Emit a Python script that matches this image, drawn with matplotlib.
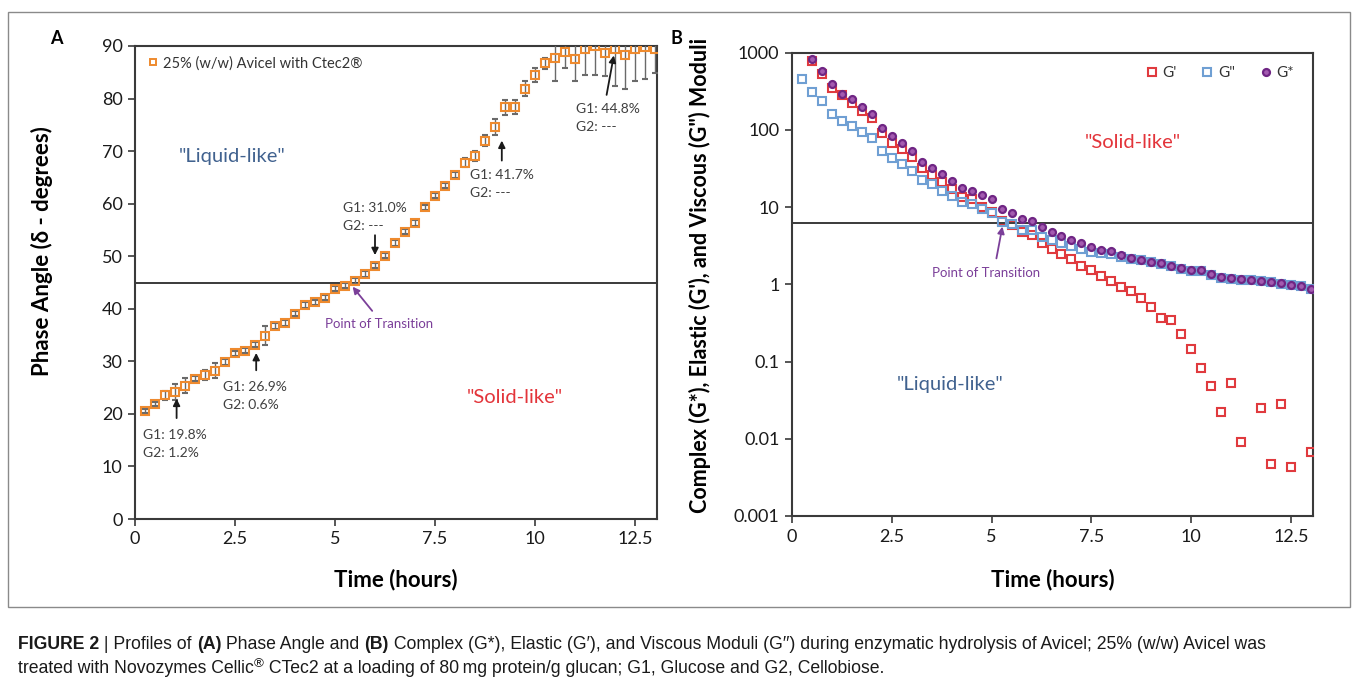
import numpy as np
import matplotlib
matplotlib.use("Agg")
import matplotlib.pyplot as plt
from matplotlib.patches import Rectangle
from matplotlib.lines import Line2D

# ---------------- data ----------------
time_a = [0.25, 0.5, 0.75, 1.0, 1.25, 1.5, 1.75, 2.0, 2.25, 2.5, 2.75, 3.0, 3.25,
          3.5, 3.75, 4.0, 4.25, 4.5, 4.75, 5.0, 5.25, 5.5, 5.75, 6.0, 6.25, 6.5,
          6.75, 7.0, 7.25, 7.5, 7.75, 8.0, 8.25, 8.5, 8.75, 9.0, 9.25, 9.5, 9.75,
          10.0, 10.25, 10.5, 10.75, 11.0, 11.25, 11.5, 11.75, 12.0, 12.25, 12.5,
          12.75, 13.0]
phase_angle = [20.6, 21.9, 23.5, 24.2, 25.4, 26.7, 27.4, 28.2, 29.9, 31.5, 32.0,
               33.2, 34.9, 36.7, 37.3, 39.1, 40.7, 41.2, 42.1, 43.8, 44.4, 45.3,
               46.6, 48.2, 50.1, 52.5, 54.7, 56.3, 59.3, 61.5, 63.4, 65.4, 67.8,
               69.1, 72.0, 74.6, 78.3, 78.4, 81.9, 84.5, 86.7, 87.8, 88.9, 87.5,
               89.4, 90.0, 88.7, 89.5, 88.3, 89.5, 89.9, 89.4]
phase_err = [0.4, 0.4, 0.9, 1.5, 1.5, 0.5, 1.0, 1.4, 0.6, 0.5, 0.5, 0.5, 1.8,
             0.6, 0.5, 0.5, 0.5, 0.5, 0.5, 0.5, 0.5, 0.5, 0.5, 0.5, 0.5, 0.5,
             0.5, 0.5, 0.5, 0.5, 0.5, 0.6, 0.8, 1.0, 1.0, 1.5, 1.4, 1.3, 1.5,
             1.3, 1.0, 4.5, 3.0, 4.2, 4.9, 5.5, 4.5, 7.2, 6.5, 6.2, 6.2, 4.5]

time_b = time_a
g_elastic = [np.nan, 780, 535, 352, 283, 221, 176, 141, 90, 68, 56, 44.6, 31.8,
             26, 21.3, 17.2, 13.6, 12.7, 10.1, 8.6, 6.6, 5.9, 4.8, 4.35, 3.48,
             2.85, 2.5, 2.15, 1.75, 1.53, 1.28, 1.12, 0.93, 0.81, 0.66, 0.51,
             0.37, 0.35, 0.227, 0.145, 0.083, 0.0486, 0.022, 0.052, 0.009,
             np.nan, 0.0248, 0.00465, 0.0281, 0.00434, np.nan, 0.0068]
g_viscous = [452, 313, 237, 162, 130, 112, 93, 78, 53, 43.6, 36, 29.6, 22.4,
             19.7, 16.2, 13.9, 11.7, 10.9, 9.5, 8.5, 6.5, 6.0, 5.05, 5.0, 4.14,
             3.75, 3.46, 3.13, 2.84, 2.64, 2.52, 2.45, 2.28, 2.15, 2.04, 1.93,
             1.84, 1.71, 1.59, 1.51, 1.51, 1.33, 1.22, 1.19, 1.15, 1.13, 1.10,
             1.07, 1.02, 0.98, 0.94, 0.87]
g_complex = [np.nan, 820, 580, 390, 292, 249, 196, 159, 107, 83, 67, 53, 38.7,
             32.4, 26.6, 21.8, 17.5, 16.3, 14.2, 12.6, 9.4, 8.5, 7.0, 6.6, 5.6,
             4.75, 4.2, 3.8, 3.4, 3.07, 2.78, 2.70, 2.40, 2.17, 2.07, 1.96, 1.87,
             1.73, 1.61, 1.53, 1.53, 1.35, 1.23, 1.20, 1.16, 1.14, 1.11, 1.08,
             1.03, 0.99, 0.95, 0.88]

x_ticks = [0, 2.5, 5, 7.5, 10, 12.5]
x_ticklabels = ["0", "2.5", "5", "7.5", "10", "12.5"]
a_yticks = [0, 10, 20, 30, 40, 50, 60, 70, 80, 90]
b_yticks = [0.001, 0.01, 0.1, 1, 10, 100, 1000]
b_yticklabels = ["0.001", "0.01", "0.1", "1", "10", "100", "1000"]
transition_a = 45
transition_b = 6.3

annotations_a = [
    ("G1: 19.8%\nG2: 1.2%", 0.2, 14.3, 1.04, 19.2, 1.04, 22.9),
    ("G1: 26.9%\nG2: 0.6%", 2.2, 23.4, 3.03, 28.3, 3.03, 31.6),
    ("G1: 31.0%\nG2: ---", 5.2, 57.5, 6.0, 54.0, 6.0, 50.2),
    ("G1: 41.7%\nG2: ---", 8.37, 63.7, 9.17, 68.2, 9.17, 72.0),
    ("G1: 44.8%\nG2: ---", 11.02, 76.3, 11.79, 80.7, 11.97, 88.2),
]

# ---------------- style ----------------
FONT = ["Lato", "DejaVu Sans"]
plt.rcParams["font.family"] = FONT
SPINE = "#3a3a3a"
ORANGE = "#ee8a2e"
RED = "#e03a3e"
BLUE = "#6f9fd3"
PURPLE = "#6f2584"
PURPLE_FACE = "#a35bb0"
TXT = "#404040"

fig = plt.figure(figsize=(13.57, 6.83), dpi=100)
W, H = 1357, 683


def ax_rect(l, t, r, b):
    return [l / W, 1 - b / H, (r - l) / W, (b - t) / H]


# outer frame
fig.patches.append(Rectangle((8 / W, 1 - 607 / H), (1350 - 8) / W, (607 - 12) / H,
                             transform=fig.transFigure, fill=False,
                             edgecolor="#8a8a8a", lw=1.0))

# ---------------- panel A ----------------
axA = fig.add_axes(ax_rect(135, 46, 657, 519))
axA.errorbar(time_a, phase_angle, yerr=phase_err, fmt="s", ms=5.2, mfc="none",
             mec=ORANGE, mew=1.5, ecolor="#6a6a6a", elinewidth=1.0, capsize=2.0,
             capthick=1.0, zorder=3)
axA.axhline(transition_a, color=SPINE, lw=1.4, zorder=2)
axA.set_xlim(0, 13.05)
axA.set_ylim(0, 90)
axA.set_xticks(x_ticks)
axA.set_xticklabels(x_ticklabels)
axA.set_yticks(a_yticks)
axA.set_xlabel("Time (hours)", fontsize=16, fontweight="bold")
axA.xaxis.set_label_coords(0.5, -0.105)
axA.set_ylabel("Phase Angle (\u03b4 - degrees)", fontsize=16, fontweight="bold")
axA.yaxis.set_label_coords(-0.157, 0.567)
hA = Line2D([], [], ls="none", marker="s", ms=4.6, mfc="none", mec=ORANGE, mew=1.4)
leg = axA.legend([hA], ["25% (w/w) Avicel with Ctec2\u00ae"], loc="upper left",
                 frameon=False, fontsize=10.5, handletextpad=0.2,
                 borderaxespad=0.3, handlelength=1.0)
for t in leg.get_texts():
    t.set_color("#333333")

for txt, tx, ty, x0, y0, x1, y1 in annotations_a:
    axA.text(tx, ty, txt, fontsize=10, color=TXT, linespacing=1.6, va="center")
    axA.annotate("", xy=(x1, y1), xytext=(x0, y0),
                 arrowprops=dict(arrowstyle="-|>", color="#1a1a1a", lw=1.3,
                                 mutation_scale=10, shrinkA=0, shrinkB=0))

axA.text(4.75, 37.1, "Point of Transition", fontsize=9.5, color="#7b3f99",
         va="center")
axA.annotate("", xy=(5.44, 44.2), xytext=(5.93, 39.6),
             arrowprops=dict(arrowstyle="-|>", color="#7b3f99", lw=1.3,
                             mutation_scale=10, shrinkA=0, shrinkB=0))
axA.text(2.42, 68.9, "\"Liquid-like\"", fontsize=14.5, color="#41628f",
         ha="center", va="center")
axA.text(9.5, 23.2, "\"Solid-like\"", fontsize=14.5, color="#e3343a",
         ha="center", va="center")

# ---------------- panel B ----------------
axB = fig.add_axes(ax_rect(792, 52.7, 1313, 516))
axB.set_yscale("log")
axB.plot(time_b, g_elastic, "s", ms=5.5, mfc="none", mec=RED, mew=1.5,
         label="G'", zorder=3)
axB.plot(time_b, g_viscous, "s", ms=5.5, mfc="none", mec=BLUE, mew=1.5,
         label="G\"", zorder=3)
axB.plot(time_b, g_complex, "o", ms=5.0, mfc=PURPLE_FACE, mec=PURPLE, mew=1.6,
         label="G*", zorder=4)
axB.axhline(transition_b, color=SPINE, lw=1.4, zorder=2)
axB.set_xlim(0, 13.05)
axB.set_ylim(0.001, 1000)
axB.set_xticks(x_ticks)
axB.set_xticklabels(x_ticklabels)
axB.set_yticks(b_yticks)
axB.set_yticklabels(b_yticklabels)
axB.yaxis.set_minor_locator(matplotlib.ticker.NullLocator())
axB.set_xlabel("Time (hours)", fontsize=16, fontweight="bold")
axB.xaxis.set_label_coords(0.5, -0.113)
axB.set_ylabel("Complex (G*), Elastic (G'), and Viscous (G\") Moduli", fontsize=15.5,
               fontweight="bold")
axB.yaxis.set_label_coords(-0.155, 0.52)
legB = axB.legend(loc="upper right", ncol=3, frameon=False, fontsize=11,
                  handletextpad=0.2, columnspacing=1.5, handlelength=1.0,
                  bbox_to_anchor=(0.99, 1.0))
for t in legB.get_texts():
    t.set_color("#333333")

axB.text(8.53, 68, "\"Solid-like\"", fontsize=14.5, color="#e3343a",
         ha="center", va="center")
axB.text(3.95, 0.051, "\"Liquid-like\"", fontsize=14.5, color="#41628f",
         ha="center", va="center")
axB.text(3.5, 1.41, "Point of Transition", fontsize=9.5, color="#7b3f99",
         va="center")
axB.annotate("", xy=(5.27, 5.6), xytext=(5.12, 2.17),
             arrowprops=dict(arrowstyle="-|>", color="#7b3f99", lw=1.3,
                             mutation_scale=10, shrinkA=0, shrinkB=0))

for ax in (axA, axB):
    for s in ax.spines.values():
        s.set_color(SPINE)
        s.set_linewidth(1.5)
    ax.tick_params(axis="both", which="major", direction="out", length=5,
                   width=1.2, color=SPINE, labelsize=13, labelcolor="#1a1a1a",
                   pad=4)

fig.text(56 / W, 1 - 38 / H, "A", fontsize=13, fontweight="bold", ha="center",
         va="center")
fig.text(676 / W, 1 - 38 / H, "B", fontsize=13, fontweight="bold", ha="center",
         va="center")

# ---------------- caption ----------------
CAP = ["Liberation Sans", "DejaVu Sans"]
renderer = fig.canvas.get_renderer()


def rich_line(x_px, y_px, pieces, fs=12.7):
    x = x_px / W
    for txt, weight, sup in pieces:
        size = fs * 0.75 if sup else fs
        y = 1 - (y_px - (6 if sup else 0)) / H
        t = fig.text(x, y, txt, fontsize=size, fontweight=weight, family=CAP,
                     color="#1a1a1a", va="baseline")
        bb = t.get_window_extent(renderer)
        x += bb.width / W


rich_line(18, 649, [("FIGURE 2", "bold", False), (" | Profiles of ", "normal", False),
                    ("(A)", "bold", False), (" Phase Angle and ", "normal", False),
                    ("(B)", "bold", False),
                    (" Complex (G*), Elastic (G\u2032), and Viscous Moduli (G\u2032\u2032) "
                     "during enzymatic hydrolysis of Avicel; 25% (w/w) Avicel was",
                     "normal", False)])
rich_line(18, 673, [("treated with Novozymes Cellic", "normal", False),
                    ("\u00ae", "normal", True),
                    (" CTec2 at a loading of 80\u2009mg protein/g glucan; G1, Glucose "
                     "and G2, Cellobiose.", "normal", False)])

fig.savefig("out.png", dpi=100, facecolor="white")
